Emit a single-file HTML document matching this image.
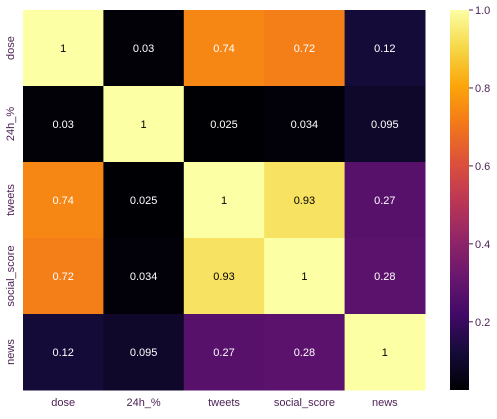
<!DOCTYPE html>
<html><head><meta charset="utf-8"><style>
body{margin:0;background:#fff;width:497px;height:414px;overflow:hidden}
text{font-family:"Liberation Sans",sans-serif}
</style></head><body>
<svg id="chart" width="497" height="414" xmlns="http://www.w3.org/2000/svg">
<defs><linearGradient id="cg" x1="0" y1="1" x2="0" y2="0">
<stop offset="0" stop-color="#000004"/><stop offset="0.1" stop-color="#160b39"/><stop offset="0.2" stop-color="#420a68"/><stop offset="0.3" stop-color="#6a176e"/><stop offset="0.4" stop-color="#932667"/><stop offset="0.5" stop-color="#bc3754"/><stop offset="0.6" stop-color="#dd513a"/><stop offset="0.7" stop-color="#f37819"/><stop offset="0.8" stop-color="#fca50a"/><stop offset="0.9" stop-color="#f6d746"/><stop offset="1" stop-color="#fcffa4"/>
</linearGradient></defs>
<g id="cells"></g><g id="labels"></g>
<rect x="450" y="10" width="19" height="380" fill="url(#cg)"/>
<g id="cbticks"></g>
</svg>
<script>
const categories=["dose","24h_%","tweets","social_score","news"];
const matrix=[[1,0.03,0.74,0.72,0.12],[0.03,1,0.025,0.034,0.095],[0.74,0.025,1,0.93,0.27],[0.72,0.034,0.93,1,0.28],[0.12,0.095,0.27,0.28,1]];
const cbTicks=[1.0,0.8,0.6,0.4,0.2];
const vmin=0.025,vmax=1;
const X0=23,Y0=10,CW=80.4,CH=76,CB0=10,CB1=390;
const stops=["#000004","#160b39","#420a68","#6a176e","#932667","#bc3754","#dd513a","#f37819","#fca50a","#f6d746","#fcffa4"];
function hex(h){return [1,3,5].map(i=>parseInt(h.substr(i,2),16));}
function lin(x){x/=255;return x<=0.03928?x/12.92:Math.pow((x+0.055)/1.055,2.4);}
function cmap(v){let t=Math.max(0,Math.min(1,(v-vmin)/(vmax-vmin)))*10;let i=Math.min(9,Math.floor(t));let f=t-i;let a=hex(stops[i]),b=hex(stops[i+1]);let c=a.map((x,k)=>Math.round(x+(b[k]-x)*f));return {c:`rgb(${c})`,lum:0.2126*lin(c[0])+0.7152*lin(c[1])+0.0722*lin(c[2])};}
const NS="http://www.w3.org/2000/svg";
const cells=document.getElementById('cells'),labels=document.getElementById('labels'),cbt=document.getElementById('cbticks');
function mk(tag,at){const e=document.createElementNS(NS,tag);for(const k in at)e.setAttribute(k,at[k]);return e;}
const lc="#4a1f52";
matrix.forEach((row,r)=>row.forEach((v,c)=>{
 const col=cmap(v);
 const rc=mk('rect',{x:X0+c*CW,y:Y0+r*CH,width:CW+0.5,height:CH+0.5,fill:col.c});
 
 
 cells.appendChild(rc);
 const t=mk('text',{x:X0+c*CW+CW/2,y:Y0+r*CH+CH/2+4,'text-anchor':'middle','font-size':11,fill:col.lum>0.408?'#000':'#fff'});
 
 
 t.textContent=String(v);labels.appendChild(t);
}));
categories.forEach((n,i)=>{
 const t=mk('text',{x:X0+i*CW+CW/2,y:406,'text-anchor':'middle','font-size':11,fill:lc});
 
 
 t.textContent=n;labels.appendChild(t);
 const cy=Y0+i*CH+CH/2;
 const y=mk('text',{x:14,y:cy,'text-anchor':'middle','font-size':11,fill:lc,transform:`rotate(-90 14 ${cy})`});
 
 
 y.textContent=n;labels.appendChild(y);
});
cbTicks.forEach(v=>{
 const y=CB1-(v-vmin)/(vmax-vmin)*(CB1-CB0);
 const l=mk('line',{x1:469,x2:473,y1:y,y2:y,stroke:lc,'stroke-width':1});
 
 
 cbt.appendChild(l);
 const t=mk('text',{x:475,y:y+4,'font-size':11,fill:lc});
 
 
 t.textContent=v.toFixed(1);cbt.appendChild(t);
});
</script>
</body></html>
